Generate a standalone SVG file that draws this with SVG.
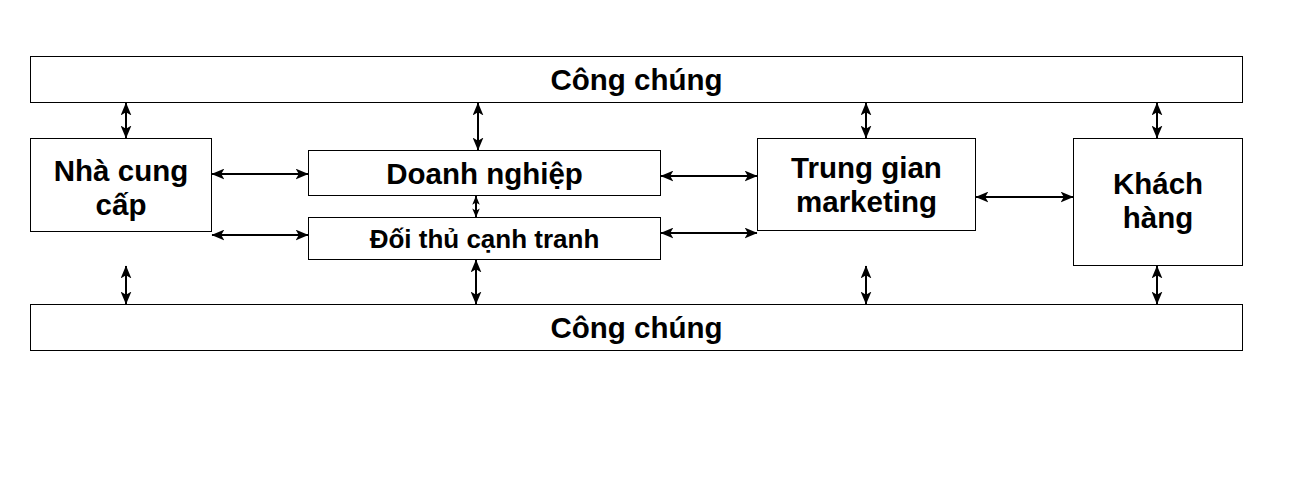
<svg xmlns="http://www.w3.org/2000/svg" width="1296" height="486" viewBox="0 0 1296 486">
<style>
.box{fill:#fff;stroke:#000;stroke-width:1}
.t{font-family:"Liberation Sans",Arial,sans-serif;font-weight:bold;font-size:29.5px;fill:#000;text-anchor:middle}
.s{font-size:26px}
.c{stroke:#000;stroke-width:2;fill:none;marker-start:url(#a);marker-end:url(#a)}
.cs{stroke:#000;stroke-width:2;fill:none;marker-start:url(#b);marker-end:url(#b)}
</style>
<defs>
<marker id="a" viewBox="0 0 12 10" refX="11.5" refY="5" markerWidth="13" markerHeight="11" markerUnits="userSpaceOnUse" orient="auto-start-reverse">
<path d="M0,0 L12,5 L0,10 L3,5 Z" fill="#000"/>
</marker>
<marker id="b" viewBox="0 0 12 10" refX="11.5" refY="5" markerWidth="9" markerHeight="9" markerUnits="userSpaceOnUse" orient="auto-start-reverse">
<path d="M0,0 L12,5 L0,10 L3,5 Z" fill="#000"/>
</marker>
</defs>
<rect width="1296" height="486" fill="#fff"/>
<g id="cong-chung-top"><rect class="box" x="30.5" y="56.5" width="1212" height="46"/><text class="t" x="636.5" y="90">Công chúng</text></g>
<g id="cong-chung-bottom"><rect class="box" x="30.5" y="304.5" width="1212" height="46"/><text class="t" x="636.5" y="338">Công chúng</text></g>
<g id="nha-cung-cap"><rect class="box" x="30.5" y="138.5" width="181" height="93"/><text class="t" x="121" y="180.5">Nhà cung</text><text class="t" x="121" y="214.5">cấp</text></g>
<g id="doanh-nghiep"><rect class="box" x="308.5" y="150.5" width="352" height="45"/><text class="t" x="484.5" y="183.5">Doanh nghiệp</text></g>
<g id="doi-thu"><rect class="box" x="308.5" y="217.5" width="352" height="42"/><text class="t s" x="484.5" y="247.5">Đối thủ cạnh tranh</text></g>
<g id="trung-gian"><rect class="box" x="757.5" y="138.5" width="218" height="92"/><text class="t" x="866.5" y="177.5">Trung gian</text><text class="t" x="866.5" y="211.5">marketing</text></g>
<g id="khach-hang"><rect class="box" x="1073.5" y="138.5" width="169" height="127"/><text class="t" x="1158" y="193.5">Khách</text><text class="t" x="1158" y="227.5">hàng</text></g>
<g id="connectors">
<line class="c" x1="126" y1="103" x2="126" y2="138"/>
<line class="c" x1="478" y1="103" x2="478" y2="150"/>
<line class="c" x1="866" y1="103" x2="866" y2="138"/>
<line class="c" x1="1157" y1="103" x2="1157" y2="138"/>
<line class="c" x1="126" y1="266" x2="126" y2="304"/>
<line class="c" x1="476" y1="260" x2="476" y2="304"/>
<line class="c" x1="866" y1="266" x2="866" y2="304"/>
<line class="c" x1="1157" y1="266" x2="1157" y2="304"/>
<line class="cs" x1="476" y1="196" x2="476" y2="217"/>
<line class="c" x1="212" y1="174" x2="308" y2="174"/>
<line class="c" x1="212" y1="235" x2="308" y2="235"/>
<line class="c" x1="661" y1="176" x2="757" y2="176"/>
<line class="c" x1="661" y1="233" x2="757" y2="233"/>
<line class="c" x1="976" y1="197" x2="1073" y2="197"/>
</g>
</svg>
